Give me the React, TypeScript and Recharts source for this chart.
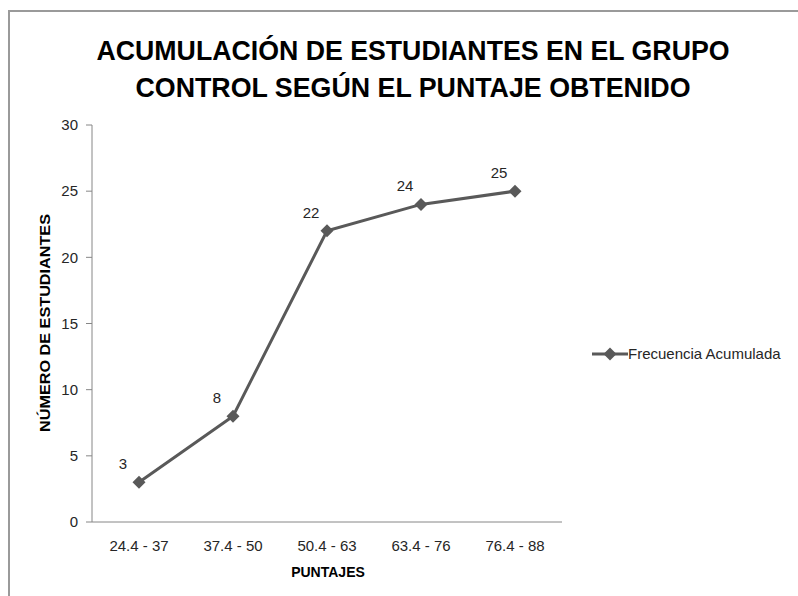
import { LineChart, Line, XAxis, YAxis, Legend, LabelList } from 'recharts';

const categories = ['24.4 - 37', '37.4 - 50', '50.4 - 63', '63.4 - 76', '76.4 - 88'];
const acumulada = [3, 8, 22, 24, 25];
const yTicks = [0, 5, 10, 15, 20, 25, 30];

const seriesName = 'Frecuencia Acumulada';
const titleLines = ['ACUMULACIÓN DE ESTUDIANTES EN EL GRUPO', 'CONTROL SEGÚN EL PUNTAJE OBTENIDO'];
const yTitle = 'NÚMERO DE ESTUDIANTES';
const xTitle = 'PUNTAJES';

const data = categories.map((name, i) => ({ name, value: acumulada[i] }));

const FONT = '"Liberation Sans", Arial, sans-serif';
const LINE_COLOR = '#595959';
const AXIS_COLOR = '#868686';
const TEXT_COLOR = '#262626';

function Diamond(props: any) {
  const { cx, cy } = props;
  if (cx == null || cy == null) return null;
  const r = 6.5;
  return (
    <polygon
      points={`${cx},${cy - r} ${cx + r},${cy} ${cx},${cy + r} ${cx - r},${cy}`}
      fill={LINE_COLOR}
    />
  );
}

function ValueLabel(props: any) {
  const { x, y, value } = props;
  return (
    <text x={x - 16} y={y - 13} textAnchor="middle" fontSize={15} fill={TEXT_COLOR} fontFamily={FONT}>
      {value}
    </text>
  );
}

function LegendContent() {
  return (
    <div style={{ display: 'flex', alignItems: 'center', fontFamily: FONT, fontSize: 15, color: TEXT_COLOR }}>
      <svg width={36} height={14}>
        <line x1={0} y1={7} x2={36} y2={7} stroke={LINE_COLOR} strokeWidth={3} />
        <polygon points="18,0.5 24.5,7 18,13.5 11.5,7" fill={LINE_COLOR} />
      </svg>
      <span>{seriesName}</span>
    </div>
  );
}

export default function App() {
  return (
    <div style={{ position: 'absolute', left: 0, top: 0, width: 798, height: 596, overflow: 'hidden', background: '#fff' }}>
      <div
        style={{
          position: 'absolute',
          left: 8,
          top: 10,
          width: 1000,
          height: 1000,
          borderLeft: '2px solid #9a9a9a',
          borderTop: '2px solid #9a9a9a',
        }}
      />
      <div style={{ position: 'absolute', left: 0, top: 0 }}>
        <LineChart width={798} height={596} data={data} margin={{ top: 125, right: 236, bottom: 17, left: 32 }}>
          <XAxis
            dataKey="name"
            height={40}
            padding={{ left: 47, right: 47 }}
            axisLine={{ stroke: AXIS_COLOR }}
            tickLine={false}
            tickMargin={12}
            tick={{ fontSize: 15, fill: TEXT_COLOR, fontFamily: FONT }}
          />
          <YAxis
            width={60}
            domain={[0, 30]}
            ticks={yTicks}
            interval={0}
            axisLine={{ stroke: AXIS_COLOR }}
            tickLine={{ stroke: AXIS_COLOR }}
            tickSize={6}
            tickMargin={8}
            tick={{ fontSize: 15, fill: TEXT_COLOR, fontFamily: FONT }}
          />
          <Legend
            content={<LegendContent />}
            wrapperStyle={{ position: 'absolute', left: 592, top: 345, width: 206 }}
          />
          <Line
            type="linear"
            dataKey="value"
            name={seriesName}
            stroke={LINE_COLOR}
            strokeWidth={3}
            dot={<Diamond />}
            activeDot={false}
            isAnimationActive={false}
          >
            <LabelList dataKey="value" content={<ValueLabel />} />
          </Line>
        </LineChart>
      </div>
      <svg width={798} height={596} style={{ position: 'absolute', left: 0, top: 0, pointerEvents: 'none' }}>
        <text
          x={413}
          y={60}
          textAnchor="middle"
          fontSize={27}
          fontWeight="bold"
          fill="#000"
          fontFamily={FONT}
          textLength={633}
          lengthAdjust="spacingAndGlyphs"
        >
          {titleLines[0]}
        </text>
        <text
          x={413}
          y={97}
          textAnchor="middle"
          fontSize={27}
          fontWeight="bold"
          fill="#000"
          fontFamily={FONT}
          textLength={555}
          lengthAdjust="spacingAndGlyphs"
        >
          {titleLines[1]}
        </text>
        <text
          x={0}
          y={0}
          transform="translate(50, 323) rotate(-90)"
          textAnchor="middle"
          fontSize={14}
          fontWeight="bold"
          fill="#000"
          fontFamily={FONT}
          textLength={218}
          lengthAdjust="spacingAndGlyphs"
        >
          {yTitle}
        </text>
        <text x={328} y={577} textAnchor="middle" fontSize={14} fontWeight="bold" fill="#000" fontFamily={FONT}>
          {xTitle}
        </text>
      </svg>
    </div>
  );
}
